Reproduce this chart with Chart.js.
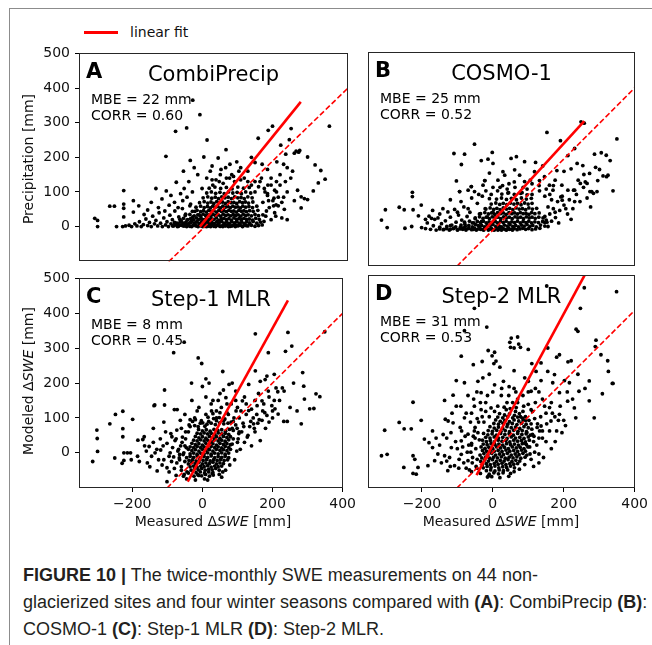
<!DOCTYPE html>
<html><head><meta charset="utf-8">
<script src="https://cdn.jsdelivr.net/npm/chart.js@4.4.1/dist/chart.umd.min.js"></script>
<style>
body{margin:0;width:652px;height:645px;background:#fff;position:relative;overflow:hidden;font-family:"DejaVu Sans",sans-serif;}
.frame{position:absolute;left:9px;top:8px;width:700px;height:700px;border-left:1px solid #8c8c8c;border-top:1px solid #8c8c8c;}
canvas{position:absolute;}
.lbl{position:absolute;font-size:14px;color:#111;white-space:nowrap;line-height:16px;}
.ylab{transform:translate(-50%,-50%) rotate(-90deg);}
.xlab{transform:translateX(-50%);}
.legline{position:absolute;left:84px;top:31px;width:34px;height:3px;background:#ff0000;}
.cap{position:absolute;left:23px;top:562px;font-family:"Liberation Sans",Arial,sans-serif;font-size:18px;line-height:27px;color:#231f20;white-space:nowrap;}
</style>
</head><body>
<div class="frame"></div>
<div class="legline"></div>
<div class="lbl" style="left:130px;top:24px;">linear fit</div>
<canvas id="cA" width="360" height="235" style="left:0;top:40px"></canvas>
<canvas id="cB" width="292" height="235" style="left:360px;top:40px"></canvas>
<canvas id="cC" width="360" height="275" style="left:0;top:265px"></canvas>
<canvas id="cD" width="292" height="275" style="left:360px;top:265px"></canvas>
<div class="lbl ylab" style="left:28px;top:159px;">Precipitation [mm]</div>
<div class="lbl ylab" style="left:28px;top:381px;">Modeled Δ<i>SWE</i> [mm]</div>
<div class="lbl xlab" style="left:213px;top:513px;">Measured Δ<i>SWE</i> [mm]</div>
<div class="lbl xlab" style="left:501px;top:513px;">Measured Δ<i>SWE</i> [mm]</div>
<div class="cap"><b>FIGURE 10 |</b> The twice-monthly SWE measurements on 44 non-<br>glacierized sites and four winter seasons compared with <b>(A)</b>: CombiPrecip <b>(B)</b>:<br>COSMO-1 <b>(C)</b>: Step-1 MLR <b>(D)</b>: Step-2 MLR.</div>
<script>
// ---------- data ----------
const tickX = [-200, 0, 200, 400];
const tickY = [0, 100, 200, 300, 400, 500];
const panelLetters = ["A", "B", "C", "D"];
const panelTitles = ["CombiPrecip", "COSMO-1", "Step-1 MLR", "Step-2 MLR"];
const mbeValues = [22, 25, 8, 31];
const corrValues = ["0.60", "0.52", "0.45", "0.53"];

const fitA = [[-14,0],[268,360]];
const fitB = [[-24,0],[257,306]];
const fitC = [[-42,-83],[244,437]];
const fitD = [[-46,-65],[262,505]];
const oneToOne = [[-150,-150],[450,450]];

const pointsA = [
[-300,0],[-308,24],[-300,18],[-247,0],[-230,0],[-222,2],[-212,4],[-205,0],[-196,8],[-190,2],[-183,14],[-178,0],[-172,6],[-165,22],[-160,3],[-155,12],[-150,0],[-146,30],[-141,8],[-137,18],[-132,2],[-128,40],[-124,10],[-119,0],[-115,25],[-110,5],[-106,14],[-102,0],[-98,33],[-95,8],[-91,20],[-88,2],[-84,45],[-80,10],[-77,0],[-73,28],[-70,5],[-66,16],[-63,52],[-60,2],[-57,9],[-54,36],[-51,0],[-48,20],[-45,4],[-42,60],[-40,12],[-37,0],[-34,28],[-31,6],[-28,44],[-25,2],[-22,16],[-19,0],[-16,34],[-13,8],[-10,2],[-6,0],[-3,20],[0,4],[4,0],[8,12],[12,2],[16,0],[20,6],[25,1],[30,0],[36,4],[42,1],[50,0],[58,3],[66,0],[75,2],[85,0],[95,4],[105,0],[115,3],[125,8],
[-266,59],[-253,59],[-227,104],[-227,65],[-227,53],[-227,28],[-200,75],[-200,42],[-185,60],[-170,35],[-160,48],[-150,70],[-137,110],[-130,55],[-120,80],[-112,45],[-108,103],[-100,62],[-95,90],[-85,70],[-80,128],[-75,55],[-68,95],[-62,75],[-58,110],[-50,85],[-45,130],[-40,65],[-35,100],
[-8,110],[5,140],[15,160],[22,120],[31,135],[43,150],[51,125],[58,170],[69,140],[83,130],[95,160],[110,140],[130,120],[140,100],[154,130],[166,110],[175,90],[185,140],[190,75],[195,40],[200,100],[205,60],[210,120],[215,25],[220,85],[170,30],[180,55],[162,70],
[165,15],[172,45],[178,75],[185,20],[192,60],[168,100],[158,140],[176,120],[198,30],[205,85],[222,50],[230,20],[150,115],[140,130],[120,130],[100,135],[80,145],[60,140],[40,130],[20,135],
[-41,191],[-3,201],[37,198],[59,222],[89,187],[6,250],[20,175],[45,165],[70,180],[100,170],[120,160],[140,185],[75,150],[-20,150],[-30,170],[-60,160],[130,200],
[-109,203],[-82,275],[-51,285],[-34,365],[-14,323],[149,255],[177,278],[189,290],[241,283],[348,290],[236,251],[255,218],[262,215],[250,212],[265,220],[287,201],[308,178],[324,162],[336,137],[317,126],[303,103],[259,105],[269,86],[278,81],[287,78],[269,54],[199,63],[193,82],[220,180],[230,170],[245,160],[210,150],[225,130],[240,140],[200,130],[175,165],[185,120],[195,105],[230,100],[250,75],[215,70],[175,95],[160,180],[212,235],[226,209],[201,187]
];
const coreA = [
[-90,2],[-82,5],[-74,1],[-66,4],[-58,2],[-50,6],[-42,1],[-34,3],[-27,5],[-20,1],[-13,4],[-6,2],[1,6],[8,1],[15,3],[22,5],[29,2],[36,6],[43,1],[50,4],[57,2],[64,5],[71,1],[78,3],[85,6],[92,2],[99,4],[106,1],[113,5],[120,2],[130,4],[140,1],[150,3],[160,5],
[-85,12],[-77,9],[-69,14],[-61,10],[-53,13],[-45,9],[-38,15],[-30,11],[-23,13],[-16,9],[-9,14],[-2,11],[5,15],[12,10],[19,13],[26,9],[33,14],[40,11],[47,15],[54,10],[61,13],[68,9],[75,14],[82,11],[89,15],[96,10],[103,13],[110,9],[117,14],[125,11],[135,15],[145,10],[155,13],
[-70,21],[-60,24],[-50,19],[-40,23],[-32,20],[-24,25],[-17,21],[-10,23],[-3,19],[4,24],[11,20],[18,23],[25,21],[32,25],[39,19],[46,22],[53,24],[60,20],[67,23],[74,19],[81,25],[88,21],[95,23],[102,20],[109,24],[116,21],[124,22],[133,19],[142,24],[152,21],
[-55,32],[-42,35],[-30,31],[-20,34],[-12,30],[-5,36],[2,32],[9,34],[16,30],[23,35],[30,32],[37,34],[44,30],[51,36],[58,32],[65,34],[72,31],[79,35],[86,32],[93,34],[100,30],[107,36],[114,32],[121,34],[130,31],[140,35],[150,32],[162,34],
[-35,44],[-22,47],[-12,43],[-4,46],[4,42],[11,47],[18,44],[25,46],[32,42],[39,47],[46,44],[53,46],[60,43],[67,47],[74,44],[81,45],[88,42],[95,47],[102,44],[109,46],[116,43],[125,46],[135,44],[148,47],
[-25,56],[-12,59],[-2,55],[7,58],[15,54],[22,59],[29,56],[36,58],[43,54],[50,59],[57,56],[64,58],[71,55],[78,59],[85,56],[92,57],[99,54],[106,59],[114,56],[123,58],[133,55],[145,59],
[-15,69],[-2,72],[8,68],[17,71],[25,67],[33,72],[41,69],[49,71],[57,67],[65,72],[73,69],[81,70],[89,67],[97,72],[105,69],[113,71],[122,68],[134,71],
[-5,83],[8,86],[19,82],[29,85],[38,81],[47,86],[56,83],[65,85],[74,81],[83,86],[92,83],[101,84],[110,81],[120,86],[132,83],
[5,97],[18,100],[30,96],[42,99],[54,95],[66,100],[78,97],[90,99],[102,95],[114,100],[128,97],
[12,111],[28,114],[44,110],[60,113],[76,109],[92,114],[108,111],[124,113]
];

const pointsB = [
[-298,7],[-248,5],[-229,10],[-201,7],[-314,28],[-303,57],[-264,64],[-250,57],[-225,57],[-227,106],[-227,94],[-202,70],[-190,4],[-185,20],[-180,39],[-176,2],[-173,33],[-168,12],[-164,30],[-160,0],[-155,34],[-150,8],[-145,18],[-141,60],[-138,2],[-134,26],[-130,10],[-127,51],[-123,0],[-120,36],[-116,14],[-112,4],[-108,58],[-104,22],[-100,0],[-97,42],[-94,108],[-92,8],[-88,28],[-85,2],[-82,65],[-79,16],[-76,0],[-73,38],[-70,112],[-68,6],[-65,50],[-61,122],[-58,20],[-55,2],[-52,108],[-50,32],[-47,0],[-44,75],[-41,12],[-38,45],[-35,2],[-32,24],[-28,126],[-26,0],[-23,139],[-22,60],[-19,8],[-16,36],[-13,0],[-10,88],[-7,16],[-4,2],[0,50],[3,0],[6,24],[10,4],[14,0],[18,10],[24,0],[30,3],[38,0],[46,2],[55,0],[-103,138],[-150,45],[-190,30],[-210,40],[-170,55],[-120,85],[-90,80],[-60,90],[-30,95],
[-5,100],[13,110],[27,125],[44,105],[62,120],[82,105],[96,115],[110,100],[131,110],[146,95],[150,28],[155,65],[160,45],[165,85],[170,60],[176,35],[182,80],[188,55],[195,95],[200,70],[210,45],[215,85],[225,60],[235,100],[245,80],[255,120],[265,90],[275,65],[146,21],[146,38],
[155,10],[165,25],[175,50],[185,20],[160,100],[170,125],[150,115],[130,125],[110,130],[85,120],[60,135],[40,115],[20,120],[0,120],[-20,110],[-40,100],[205,60],[220,30],[230,80],[-70,60],[-100,50],
[28,164],[61,169],[75,154],[89,136],[117,164],[131,139],[159,126],[169,112],[-23,139],[-61,122],[-94,108],[0,187],[248,304],[257,300],[152,274],[349,256],[-52,241],[-110,215],[-80,213],[-2,218],[-33,195],[-14,199],[-89,184],[51,201],[66,206],[89,192],[211,209],[230,229],[190,251],[286,213],[305,217],[319,210],[237,187],[253,181],[289,176],[220,172],[200,165],[180,167],[256,156],[272,159],[295,139],[338,110],[278,108],[293,108],[230,112],[211,112],[194,126],[14,140],[33,154],[105,140],[145,150],[45,130],[-10,160],[175,140],[240,140],[260,135],[320,150],[300,170],[330,195],[120,190],[140,180],[273,108],[283,103],[324,154],[310,152],[265,131],[246,131],[227,112],[195,84],[191,93]
];
const coreB = [
[-150,3],[-140,1],[-130,4],[-120,2],[-110,5],[-100,1],[-92,3],[-84,6],[-76,2],[-68,4],[-60,1],[-52,5],[-44,2],[-36,4],[-28,1],[-20,6],[-12,2],[-4,4],[4,1],[12,5],[20,2],[28,4],[36,1],[44,6],[52,2],[60,4],[68,1],[76,3],[84,5],[92,2],[100,4],[110,1],[120,3],[132,5],
[-120,12],[-105,9],[-90,14],[-78,10],[-68,13],[-58,9],[-49,15],[-40,11],[-32,13],[-24,9],[-16,14],[-8,11],[0,15],[8,10],[16,13],[24,9],[32,14],[40,11],[48,15],[56,10],[64,13],[72,9],[80,14],[88,11],[96,15],[104,10],[112,13],[122,9],[134,14],[146,11],
[-80,22],[-66,25],[-54,20],[-44,24],[-35,21],[-27,25],[-19,20],[-11,23],[-3,21],[5,25],[13,20],[21,24],[29,21],[37,25],[45,20],[53,23],[61,21],[69,25],[77,20],[85,24],[93,21],[101,25],[109,20],[118,23],[128,21],[140,24],[152,22],
[-50,34],[-38,37],[-28,33],[-19,36],[-10,32],[-2,37],[6,34],[14,36],[22,32],[30,37],[38,34],[46,36],[54,32],[62,37],[70,34],[78,36],[86,32],[94,37],[102,34],[110,36],[119,33],[129,36],[141,34],
[-35,46],[-23,49],[-13,45],[-4,48],[5,44],[13,49],[21,46],[29,48],[37,44],[45,49],[53,46],[61,48],[69,45],[77,49],[85,46],[93,47],[101,44],[109,49],[118,46],[130,48],
[-20,59],[-8,62],[2,58],[11,61],[20,57],[29,62],[38,59],[47,61],[56,57],[65,62],[74,59],[83,60],[92,57],[101,62],[111,59],[123,61],
[-5,73],[8,76],[19,72],[29,75],[39,71],[49,76],[59,73],[69,75],[79,71],[89,76],[99,73],[110,75],
[10,87],[24,90],[38,86],[52,89],[66,85],[80,90],[94,87],[108,89],
[25,101],[42,104],[60,100],[78,103],[96,99]
];

const pointsC = [
[-313,-25],[-301,65],[-300,41],[-299,4],[-264,83],[-248,110],[-227,119],[-227,69],[-227,46],[-229,-30],[-224,-22],[-224,0],[-214,0],[-205,0],[-250,-15],[-199,96],[-185,-10],[-184,36],[-170,38],[-166,46],[-157,-29],[-152,18],[-203,-20],[-138,135],[-136,137],[-129,-52],[-119,8],[-110,88],[-108,137],[-108,180],[-101,27],[-101,-43],[-101,-83],[-87,46],[-80,124],[-73,65],[-73,-29],[-72,124],[-63,93],[-54,-67],[-160,5],[-145,-10],[-140,30],[-130,10],[-125,-20],[-115,-35],[-112,20],[-95,-10],[-92,0],[-88,-25],[-85,15],[-80,-45],[-78,35],[-70,5],[-66,-15],[-62,20],[-60,-40],[-57,45],[-53,0],[-50,-25],[-48,60],[-46,15],[-44,-55],[-38,80],[-22,100],[-6,85],[18,90],[26,120],[40,100],[54,130],[62,95],[74,110],[82,140],[88,90],[96,120],[99,70],[102,40],[105,100],[108,10],[112,60],[116,85],[120,30],[125,110],[130,50],[135,75],[140,20],[145,100],[150,60],[158,85],[165,35],[172,120],[180,70],[6,-75],[-10,-65],[28,-60],
[95,150],[110,120],[125,140],[140,125],[155,110],[160,170],[175,140],[190,160],[200,120],[215,175],[105,60],[118,75],[128,45],[138,90],[148,70],[162,95],[178,115],[190,88],[205,150],[60,180],[85,200],[45,150],[25,140],[-15,120],[-35,95],[-60,70],[-75,40],[-90,55],[-110,-20],[-120,40],[-135,0],[-150,-40],[-165,20],[-180,-25],[-95,-55],[-75,-65],[-65,-5],[-82,-12],[-105,60],[-140,70],
[132,196],[165,205],[179,210],[188,177],[170,149],[156,135],[198,135],[207,126],[216,111],[184,107],[170,93],[146,83],[132,121],[114,149],[95,177],[76,196],[67,158],[151,341],[244,345],[-82,287],[-52,317],[-12,272],[-2,256],[349,347],[255,306],[237,291],[188,287],[286,230],[289,191],[324,169],[335,161],[291,154],[318,127],[306,126],[282,83],[232,90],[242,90],[205,225],[184,220],[151,235],[228,186],[210,186],[233,177],[58,233],[10,212],[19,200],[0,190],[-31,200],[30,150],[50,170],[-10,130],[10,160],[40,120],[100,130],[-50,110],[-30,150],[70,140],[120,160],[150,150],[200,100],[220,150],[250,130],[260,200],[270,120]
];
const coreC = [
[-24,-67],[-13,-63],[-2,-66],[9,-62],[20,-67],[31,-64],
[-18,-57],[-6,-55],[6,-58],[18,-55],[30,-57],
[-32,-50],[-22,-46],[-12,-49],[-2,-45],[8,-50],[18,-47],[28,-49],[38,-45],[48,-50],
[-35,-40],[-25,-38],[-15,-41],[-5,-38],[5,-40],[15,-37],[25,-41],[35,-38],[45,-40],[55,-38],
[-40,-32],[-30,-28],[-20,-31],[-10,-27],[0,-32],[10,-29],[20,-31],[30,-27],[40,-32],[50,-29],[60,-31],
[-38,-22],[-28,-20],[-18,-23],[-8,-20],[2,-22],[12,-19],[22,-23],[32,-20],[42,-22],[52,-19],[62,-22],[72,-20],
[-45,-14],[-35,-10],[-25,-13],[-15,-9],[-5,-14],[5,-11],[15,-13],[25,-9],[35,-14],[45,-11],[55,-13],[65,-10],[75,-14],
[-35,-3],[-25,-1],[-15,-4],[-5,-1],[5,-3],[15,0],[25,-4],[35,-1],[45,-3],[55,0],[65,-4],[75,-1],
[-40,10],[-30,6],[-20,9],[-10,5],[0,10],[10,7],[20,9],[30,5],[40,10],[50,7],[60,9],[70,6],[80,10],
[-35,17],[-25,15],[-15,18],[-5,15],[5,17],[15,14],[25,18],[35,15],[45,17],[55,14],[65,18],[75,15],
[-30,27],[-20,23],[-10,26],[0,22],[10,27],[20,24],[30,26],[40,22],[50,27],[60,24],[70,26],[80,23],
[-25,36],[-15,34],[-5,37],[5,34],[15,36],[25,33],[35,37],[45,34],[55,36],[65,33],[75,37],
[-20,47],[-10,43],[0,46],[10,42],[20,47],[30,44],[40,46],[50,42],[60,47],[70,44],[80,46],
[-15,56],[-5,54],[5,57],[15,54],[25,56],[35,53],[45,57],[55,54],[65,56],[75,53],
[-11,67],[0,63],[11,66],[22,62],[33,67],[44,64],[55,66],[66,62],[77,67],[88,64],
[1,86],[13,82],[25,85],[37,81],[49,86],[61,83],[73,85],
[16,102],[32,98],[48,101],[64,97],
[-60,-50],[-65,-20],[-68,10],[-58,30],[-52,-62],[48,-62],[66,-50],[78,-35],[92,-20],[98,5],[100,30],[104,55],[-40,60],[-35,75],[-28,90],[-20,95],[95,80],[90,100],[70,115],[50,115],[30,112],[10,110],[-45,-75],[15,-78],[-20,-78],[55,-70],[-50,20],[-55,-5],[88,40],[85,70],[-12,75],[-22,78],[7,76],[58,-55],[-40,-58],[85,25],[-48,40],[-3,92],[40,92],[60,92],[82,88]
];

const pointsD = [
[-314,-10],[-298,-6],[-305,62],[-264,84],[-250,66],[-230,66],[-225,141],[-202,90],[-251,-43],[-225,-10],[-220,-20],[-211,-43],[-225,-60],[-216,-62],[-193,37],[-183,-38],[-180,27],[-170,13],[-164,-24],[-136,146],[-136,-10],[-134,93],[-127,-52],[-126,88],[-117,13],[-112,83],[-112,161],[-108,-38],[-103,202],[-103,130],[-89,32],[-89,-6],[-80,196],[-80,97],[-70,51],[-70,-24],[-52,60],[-52,130],[-42,200],[-33,168],[-28,210],[-150,20],[-145,-30],[-130,40],[-122,-15],[-118,55],[-100,10],[-96,-45],[-92,70],[-85,15],[-82,-30],[-78,45],[-75,110],[-72,0],[-66,-50],[-63,85],[-60,25],[-57,-15],[-54,150],[-50,40],[-47,-40],[-44,95],[-33,120],[-20,140],[0,170],[14,130],[24,160],[38,120],[46,185],[56,140],[64,115],[70,150],[78,100],[87,130],[90,25],[93,90],[96,55],[100,170],[104,15],[108,80],[112,115],[116,45],[120,140],[125,70],[130,-5],[135,100],[140,40],[146,130],[152,80],[160,60],[168,110],[176,30],[185,90],[195,55],[205,75],
[-140,50],[-155,-5],[-170,60],[-120,-40],[-105,30],[-95,-20],[-88,60],[-75,-45],[-68,20],[-60,110],[-45,170],[-35,140],[-15,160],[5,190],[25,180],[45,160],[65,170],[85,160],[100,200],[120,180],[140,150],[150,110],[165,140],[175,100],[190,130],[200,90],[210,170],[225,150],[140,60],[150,30],[165,10],[180,60],[130,-30],[115,-40],[-130,-25],[-160,40],[-115,110],[-90,130],[-70,160],[60,230],
[136,252],[155,228],[122,228],[174,219],[169,196],[202,202],[216,196],[136,202],[108,172],[188,168],[211,144],[234,97],[188,107],[164,88],[136,74],[160,126],[152,469],[258,464],[349,453],[247,406],[-52,406],[-17,353],[-80,343],[235,347],[240,341],[291,316],[289,298],[305,275],[324,258],[326,228],[339,194],[52,322],[48,310],[50,296],[70,325],[73,305],[60,294],[78,296],[-89,271],[-13,287],[5,282],[-2,272],[9,257],[3,250],[-55,247],[-30,256],[155,294],[188,275],[180,268],[212,255],[221,258],[230,125],[243,172],[272,201],[272,145],[286,97],[309,165],[337,194],[143,-15],[-12,-67],[-3,-69],[30,200],[60,180],[90,210],[-10,220],[20,240],[110,250],[100,290],[130,170],[240,220],[260,180]
];
const coreD = [
[-10,-62],[3,-58],[16,-61],[29,-58],
[-18,-52],[-6,-50],[6,-53],[18,-50],[30,-52],[42,-50],
[-27,-44],[-16,-40],[-5,-43],[6,-39],[17,-44],[28,-41],[39,-43],[50,-39],[61,-44],
[-29,-34],[-18,-32],[-7,-35],[4,-32],[15,-34],[26,-31],[37,-35],[48,-32],[59,-34],[70,-32],
[-34,-26],[-23,-22],[-12,-25],[-1,-21],[10,-26],[21,-23],[32,-25],[43,-21],[54,-26],[65,-23],[76,-25],
[-31,-16],[-20,-14],[-9,-17],[2,-14],[13,-16],[24,-13],[35,-17],[46,-14],[57,-16],[68,-13],[79,-17],[91,-14],
[-36,-8],[-25,-4],[-14,-7],[-3,-3],[8,-8],[19,-5],[30,-7],[41,-3],[52,-8],[63,-5],[74,-7],[85,-3],[96,-8],
[-29,5],[-18,3],[-7,6],[4,3],[15,5],[26,2],[37,6],[48,3],[59,5],[70,2],[81,6],[92,3],
[-33,15],[-22,11],[-11,14],[0,10],[11,15],[22,12],[33,14],[44,10],[55,15],[66,12],[77,14],[88,10],[99,15],
[-27,23],[-16,21],[-5,24],[6,21],[17,23],[28,20],[39,24],[50,21],[61,23],[72,20],[83,24],[95,21],
[-29,34],[-18,30],[-7,33],[4,29],[15,34],[26,31],[37,33],[48,29],[59,34],[70,31],[81,33],[92,29],[103,34],
[-20,42],[-8,40],[4,43],[16,40],[28,42],[40,39],[52,43],[64,40],[76,42],[88,39],[100,43],
[-26,53],[-14,49],[-2,52],[10,48],[22,53],[34,50],[46,52],[58,48],[70,53],[82,50],[94,52],[106,48],
[-13,61],[-1,59],[11,62],[23,59],[35,61],[47,58],[59,62],[71,59],[83,61],[95,58],
[-8,72],[4,68],[16,71],[28,67],[40,72],[52,69],[64,71],[76,67],[88,72],[100,69],
[3,81],[16,79],[29,82],[42,79],[55,81],[68,78],[81,82],[94,79],
[8,91],[21,87],[34,90],[47,86],[60,91],[73,88],[86,90],
[14,99],[28,97],[42,100],[56,97],[70,99],[84,96],
[19,109],[33,105],[47,108],[61,104],[75,109],
[32,127],[49,123],[66,126],
[-60,-55],[-58,-30],[-62,0],[-60,20],[-55,45],[-50,70],[-40,85],[-30,100],[-20,115],[-5,125],[60,-55],[75,-48],[90,-35],[108,-20],[118,0],[124,20],[130,40],[132,60],[126,80],[118,95],[108,120],[100,135],[70,140],[40,140],[-15,-70],[20,-72],[45,-68],[-45,-45],[-48,10],[-42,55],[-25,85],[110,65],[115,30],[105,-5],[92,100],[85,115],[-35,-60],[50,-60],[5,115],[-10,100],[112,50],[-44,-20],[-38,35],[102,90]
];

// ---------- drawing ----------
const FONT = '"DejaVu Sans", sans-serif';
const xy = arr => arr.map(p => ({x: p[0], y: p[1]}));
const fmt = v => v < 0 ? '\u2212' + Math.abs(v) : String(v);

const panelDecor = {
  id: 'panelDecor',
  afterDatasetsDraw(chart, args, o) {
    const {ctx, chartArea: a} = chart;
    ctx.save();
    ctx.strokeStyle = '#262626'; ctx.lineWidth = 1;
    ctx.strokeRect(Math.round(a.left) + 0.5, Math.round(a.top) + 0.5, Math.round(a.right - a.left) - 1, Math.round(a.bottom - a.top) - 1);
    ctx.fillStyle = '#000';
    ctx.textBaseline = 'alphabetic';
    ctx.textAlign = 'left';
    ctx.font = 'bold 21px ' + FONT;
    ctx.fillText(o.letter, a.left + 7, a.top + 25);
    ctx.font = '21px ' + FONT;
    ctx.textAlign = 'center';
    ctx.fillText(o.title, (a.left + a.right) / 2, a.top + 28);
    ctx.textAlign = 'left';
    ctx.font = '14px ' + FONT;
    ctx.fillText('MBE = ' + o.mbe + ' mm', a.left + 12, a.top + 51);
    ctx.fillText('CORR = ' + o.corr, a.left + 12, a.top + 67);
    ctx.restore();
  }
};

function makePanel(id, idx, pts, fit, opt) {
  const xScale = {
    type: 'linear', min: -352, max: 400, display: opt.showX,
    afterBuildTicks: s => { s.ticks = tickX.map(v => ({value: v})); },
    afterFit: s => { s.height = opt.showX ? 30 : 0; },
    grid: {display: true, drawOnChartArea: false, drawTicks: true, tickLength: 4, color: '#000'},
    border: {display: false},
    ticks: {font: {family: FONT, size: 14}, color: '#111', padding: 4, maxRotation: 0, callback: v => fmt(v)}
  };
  const yScale = {
    type: 'linear', min: -101, max: 500, display: opt.showY,
    afterBuildTicks: s => { s.ticks = tickY.map(v => ({value: v})); },
    afterFit: s => { s.width = opt.showY ? 79 : 0; },
    grid: {display: true, drawOnChartArea: false, drawTicks: true, tickLength: 4, color: '#000'},
    border: {display: false},
    ticks: {font: {family: FONT, size: 14}, color: '#111', padding: 5, callback: v => fmt(v)}
  };
  new Chart(document.getElementById(id), {
    type: 'scatter',
    data: {datasets: [
      {data: xy(fit), showLine: true, borderColor: '#ff0000', borderWidth: 2.6, pointRadius: 0, clip: 0},
      {data: xy(oneToOne), showLine: true, borderColor: '#ff0000', borderWidth: 1.6, borderDash: [5.5, 2.6], pointRadius: 0, clip: 0},
      {data: xy(pts), pointRadius: 1.9, pointBackgroundColor: '#000', pointBorderWidth: 0, clip: 0}
    ]},
    options: {
      responsive: false, animation: false, devicePixelRatio: 1,
      layout: {autoPadding: false, padding: opt.pad},
      scales: {x: xScale, y: yScale},
      plugins: {
        legend: {display: false}, tooltip: {enabled: false},
        panelDecor: {letter: panelLetters[idx], title: panelTitles[idx], mbe: mbeValues[idx], corr: corrValues[idx]}
      }
    },
    plugins: [panelDecor]
  });
}

makePanel('cA', 0, pointsA.concat(coreA), fitA, {showX: false, showY: true, pad: {left: 0, top: 12, right: 12, bottom: 9}});
makePanel('cB', 1, pointsB.concat(coreB), fitB, {showX: false, showY: false, pad: {left: 8, top: 12, right: 17, bottom: 9}});
makePanel('cC', 2, pointsC.concat(coreC), fitC, {showX: true, showY: true, pad: {left: 0, top: 10, right: 12, bottom: 22}});
makePanel('cD', 3, pointsD.concat(coreD), fitD, {showX: true, showY: false, pad: {left: 8, top: 10, right: 17, bottom: 22}});
</script>
</body></html>
